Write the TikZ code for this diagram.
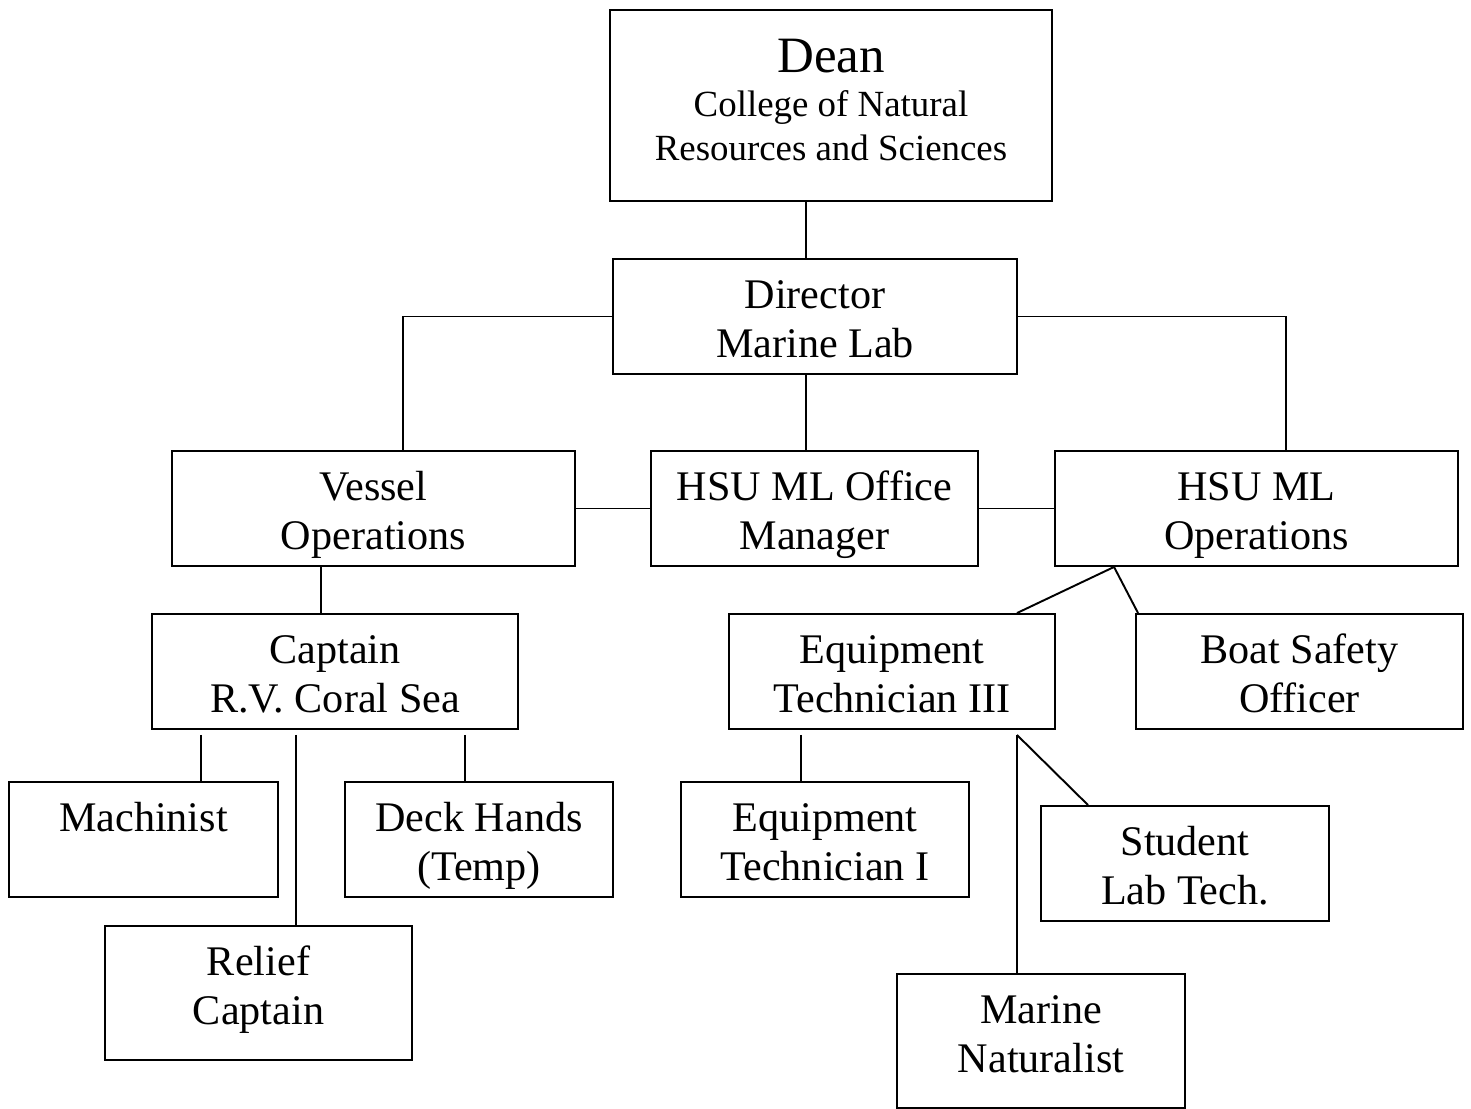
\documentclass[tikz,border=0pt]{standalone}
\usepackage{fontspec}
\setmainfont{Liberation Serif}
\usetikzlibrary{positioning}

\begin{document}
\begin{tikzpicture}[%
x=0.02cm, y=-0.02cm,
box/.style={draw, line width=1.1pt, align=center, inner sep=0pt,
  font=\fontsize{24}{27.5}\selectfont, minimum height=2.30cm,
  text height=46.2pt, text depth=0pt},
single/.style={box, text height=0pt, text depth=8.8pt},
tall/.style={box, minimum height=2.68cm, text height=35.4pt},
link/.style={line width=1.1pt}
]
\useasboundingbox (0,0) rectangle (1471,1109);

\node[box, minimum width=8.84cm, minimum height=3.82cm, text height=62.9pt,
  font=\fontsize{21}{25}\selectfont] (dean) at (831,105.5)
  {{\fontsize{29}{25}\selectfont Dean}\\College of Natural\\Resources and Sciences};
\node[box, minimum width=8.08cm] (dir) at (815,316.5) {Director\\Marine Lab};

\node[box, minimum width=8.06cm] (vessel) at (373.5,508.5) {Vessel\\Operations};
\node[box, minimum width=6.54cm] (office) at (814.5,508.5) {HSU ML Office\\Manager};
\node[box, minimum width=8.06cm] (mlops) at (1256.5,508.5) {HSU ML\\Operations};

\node[box, minimum width=7.32cm] (capt) at (335,671.5) {Captain\\R.V. Coral Sea};
\node[box, minimum width=6.52cm] (tech3) at (892,671.5) {Equipment\\Technician III};
\node[box, minimum width=6.54cm] (safety) at (1299.5,671.5) {Boat Safety\\Officer};

\node[single, minimum width=5.38cm] (mach) at (143.5,839.5) {Machinist};
\node[box, minimum width=5.36cm] (deck) at (479,839.5) {Deck Hands\\(Temp)};
\node[tall, minimum width=6.14cm] (relief) at (258.5,993) {Relief\\Captain};

\node[box, minimum width=5.76cm] (tech1) at (825,839.5) {Equipment\\Technician I};
\node[box, minimum width=5.76cm] (student) at (1185,863.5) {Student\\Lab Tech.};
\node[tall, minimum width=5.76cm] (natur) at (1041,1041) {Marine\\Naturalist};

% dean and director
\draw[link] ([xshift=-0.5cm] dean.south) -- ([xshift=-0.5cm] dean.south |- dir.north);
\draw[link] (dir.west) -| ([xshift=0.59cm] vessel.north);
\draw[link] (dir.east) -| ([xshift=0.59cm] mlops.north);
\draw[link] ([xshift=-0.18cm] dir.south) -- ([xshift=-0.18cm] dir.south |- office.north);
\draw[link] (vessel.east) -- (office.west);
\draw[link] (office.east) -- (mlops.west);

% vessel side
\draw[link] ([xshift=-1.05cm] vessel.south) -- ([xshift=-1.05cm] vessel.south |- capt.north);
\draw[link] ([xshift=-2.68cm, yshift=-0.1cm] capt.south) -- ([xshift=-2.68cm] capt.south |- mach.north);
\draw[link] ([xshift=-0.78cm, yshift=-0.1cm] capt.south) -- ([xshift=-0.78cm] capt.south |- relief.north);
\draw[link] ([xshift=2.6cm, yshift=-0.1cm] capt.south) -- ([xshift=2.6cm] capt.south |- deck.north);

% lab side
\draw[link] ([xshift=2.5cm] tech3.north) -- ([xshift=-2.85cm] mlops.south) -- ([xshift=-3.23cm] safety.north);
\draw[link] ([xshift=-1.82cm, yshift=-0.1cm] tech3.south) -- ([xshift=-1.82cm] tech3.south |- tech1.north);
\draw[link] ([xshift=2.5cm, yshift=-0.1cm] tech3.south) -- ([xshift=2.5cm] tech3.south |- natur.north);
\draw[link] ([xshift=2.5cm, yshift=-0.1cm] tech3.south) -- ([xshift=-1.94cm] student.north);
\end{tikzpicture}
\end{document}
